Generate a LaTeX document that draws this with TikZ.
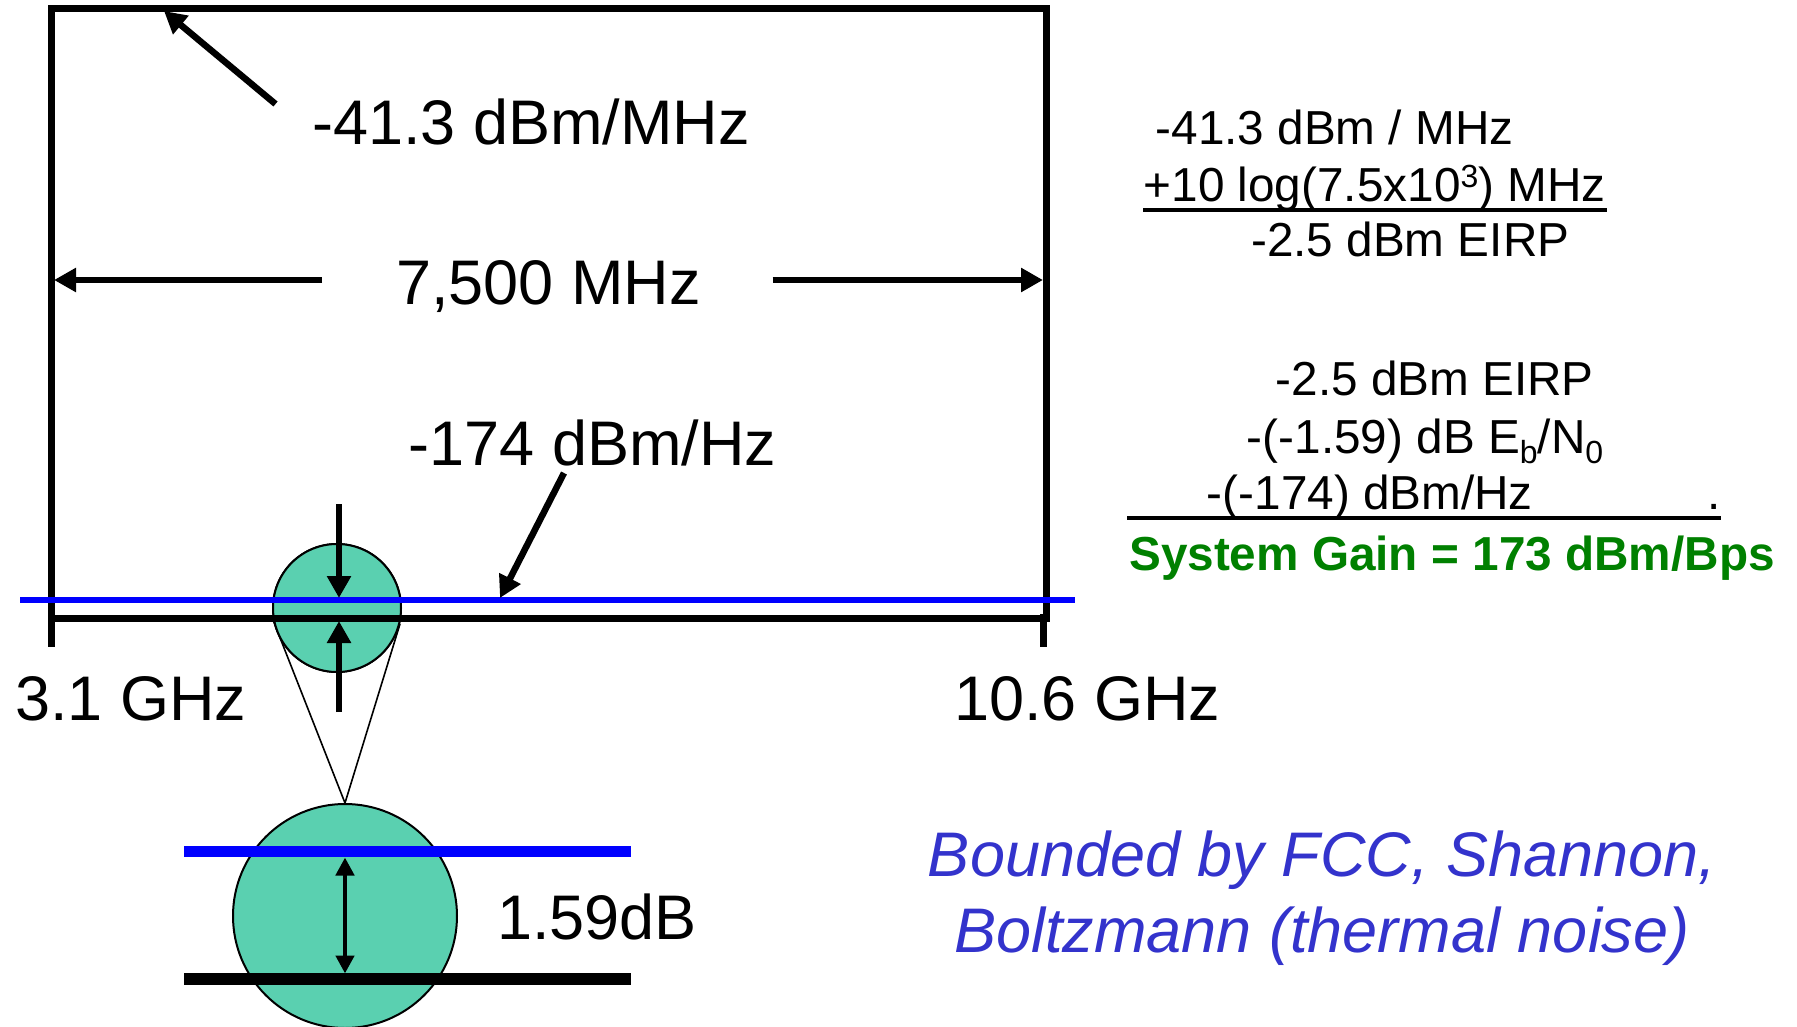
\documentclass[tikz,border=0pt]{standalone}
\usepackage{fontspec}
\setmainfont{Liberation Sans}
\usetikzlibrary{arrows.meta}
\definecolor{tealfill}{RGB}{90,208,176}
\definecolor{txtblue}{RGB}{51,51,204}
\definecolor{gaingreen}{RGB}{0,128,0}
\definecolor{lineblue}{RGB}{0,0,255}
\newcommand\fbig{\fontsize{63}{75}\selectfont}
\newcommand\fmid{\fontsize{47.7}{57}\selectfont}
\newcommand\mysub[1]{\raisebox{-0.22em}{\fontsize{32}{32}\selectfont #1}}
\newcommand\mysup[1]{\raisebox{0.3em}{\fontsize{32}{32}\selectfont #1}}
\begin{document}
\begin{tikzpicture}[x=1pt,y=-1pt,
  lbl/.style={inner sep=0pt,anchor=base west,font=\fbig},
  rlbl/.style={inner sep=0pt,anchor=base west,font=\fmid},
  framestyle/.style={line width=7pt,line join=miter},
  bigtip/.style={line width=6.5pt,-{Triangle[length=22pt,width=23pt]}},
  smalltip/.style={line width=4.5pt,{Triangle[length=18pt,width=18pt]}-{Triangle[length=18pt,width=18pt]}},
  disc/.style={circle,draw=black,line width=2pt,fill=tealfill,inner sep=0pt},
  funnel/.style={line width=1.6pt},
  uline/.style={line width=3.5pt}]
\useasboundingbox (0,0) rectangle (1797,1027);

% funnel lines (behind circles)
\node[disc,minimum size=128pt] (sc) at (337,608) {};
\node[disc,minimum size=224pt] (bc) at (345,916) {};
\draw[funnel] (sc.191) -- (bc.north);
\draw[funnel] (sc.-14) -- (bc.north);
\node[disc,minimum size=128pt] at (sc) {};

% frame
\coordinate (tl) at (51,9);
\coordinate (br) at (1046,618);
\draw[framestyle] (tl) rectangle (br);
\coordinate (tkl1) at (51,614);
\coordinate (tkl2) at (51,647);
\coordinate (tkr1) at (1043,614);
\coordinate (tkr2) at (1043,647);
\draw[framestyle] (tkl1) -- (tkl2);
\draw[framestyle] (tkr1) -- (tkr2);

% thermal noise line
\coordinate (bl1) at (20,600);
\coordinate (bl2) at (1075,600);
\draw[lineblue,line width=6pt] (bl1) -- (bl2);

% big labels
\node[lbl] (l1) at (312,145) {-41.3 dBm/MHz};
\node[lbl] (l2) at (396,305) {7,500 MHz};
\node[lbl] (l3) at (408.5,465) {-174 dBm/Hz};
\node[lbl] (l4) at (15,720) {3.1 GHz};
\node[lbl] (l5) at (954,720) {10.6 GHz};
\node[lbl] (l6) at (497,939) {1.59dB};

% arrows
\coordinate (a1s) at (275.5,104);
\coordinate (a1e) at (164,11);
\draw[bigtip] (a1s) -- (a1e);
\coordinate (a2s) at (322,280);
\coordinate (a2e) at (54,280);
\draw[bigtip] (a2s) -- (a2e);
\coordinate (a3s) at (772.6,280);
\coordinate (a3e) at (1043,280);
\draw[bigtip] (a3s) -- (a3e);
\coordinate (a4s) at (564,473);
\coordinate (a4e) at (500,598);
\draw[bigtip] (a4s) -- (a4e);
\coordinate (a5s) at (339,504);
\coordinate (a5e) at (339,598);
\draw[bigtip] (a5s) -- (a5e);
\coordinate (a6s) at (339,712);
\coordinate (a6e) at (339,621);
\draw[bigtip] (a6s) -- (a6e);

% magnified view lines
\coordinate (mb1) at (184,851.5);
\coordinate (mb2) at (631,851.5);
\coordinate (mk1) at (184,979);
\coordinate (mk2) at (631,979);
\draw[lineblue,line width=11.7pt] (mb1) -- (mb2);
\draw[black,line width=11.7pt] (mk1) -- (mk2);
\coordinate (da1) at (345,857.5);
\coordinate (da2) at (345,973.5);
\draw[smalltip] (da1) -- (da2);

% right block
\node[rlbl] (r1) at (1155.5,144.3) {-41.3 dBm / MHz};
\node[rlbl] (r2) at (1143.5,201.7) {+10 log(7.5x10\mysup{3}) MHz};
\coordinate (u1a) at (1143,210);
\coordinate (u1b) at (1607,210);
\draw[uline] (u1a) -- (u1b);
\node[rlbl] (r3) at (1251,256.7) {-2.5 dBm EIRP};
\node[rlbl] (r4) at (1275.5,395) {-2.5 dBm EIRP};
\node[rlbl] (r5) at (1246.7,453) {-(-1.59) dB E\mysub{b}/N\mysub{0}};
\node[rlbl] (r6) at (1206.7,509) {-(-174) dBm/Hz};
\node[rlbl] (r6dot) at (1707,509) {.};
\coordinate (u2a) at (1127,518);
\coordinate (u2b) at (1721,518);
\draw[uline] (u2a) -- (u2b);
\node[rlbl,font=\fmid\bfseries,text=gaingreen] (r7) at (1129,570) {System Gain = 173 dBm/Bps};

% blue italic note
\node[inner sep=0pt,anchor=base,font=\fbig\itshape,text=txtblue] (b1) at (1322,876) {Bounded by FCC, Shannon,};
\node[inner sep=0pt,anchor=base,font=\fbig\itshape,text=txtblue] (b2) at (1322,952.7) {Boltzmann (thermal noise)};
\end{tikzpicture}
\end{document}
